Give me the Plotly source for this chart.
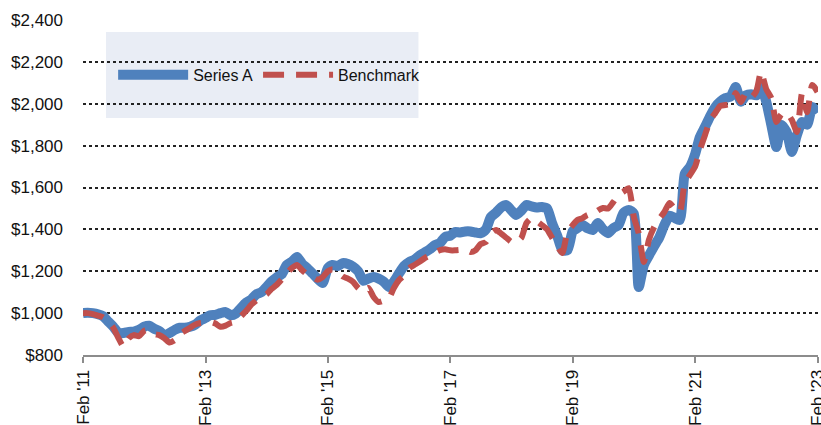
import pandas as pd
import plotly.graph_objects as go

dates = pd.date_range("2011-02-01", periods=145, freq="MS")

series_a = [
    1000, 1002, 1000, 995, 985, 960, 935, 905, 905, 910, 912, 920,
    935, 940, 925, 915, 895, 905, 920, 930, 930, 935, 945, 965,
    977, 990, 992, 1000, 1005, 990, 998, 1025, 1050, 1065, 1090, 1100,
    1125, 1150, 1170, 1185, 1230, 1245, 1268, 1235, 1215, 1190, 1165, 1144,
    1215, 1230, 1225, 1239, 1235, 1222, 1200, 1155, 1165, 1172, 1165, 1150,
    1125, 1150, 1190, 1225, 1244, 1255, 1275, 1290, 1305, 1325, 1335, 1364,
    1370, 1387, 1385, 1390, 1390, 1385, 1382, 1400, 1459, 1480, 1505, 1516,
    1490, 1469, 1490, 1516, 1510, 1505, 1507, 1500, 1430, 1370, 1300, 1301,
    1390, 1406, 1421, 1405, 1397, 1430, 1400, 1382, 1406, 1420, 1478, 1493,
    1475, 1125, 1230, 1275, 1320, 1360, 1420, 1465, 1455, 1445, 1665, 1698,
    1760, 1841, 1890, 1940, 1984, 2010, 2027, 2035, 2080, 2010, 2040, 2045,
    2040, 2080, 2010, 1900, 1793, 1898, 1865, 1770, 1850, 1913, 1900, 1984,
    1956,
]

benchmark = [
    1000, 1000, 995, 988, 980, 960, 930, 880, 840, 880, 895, 890,
    915, 920, 900, 895, 880, 860, 870, 900, 915, 930, 945, 953,
    955, 958, 950, 935, 940, 953, 960, 985, 1010, 1040, 1060, 1075,
    1090, 1115, 1134, 1160, 1190, 1215, 1230, 1205, 1185, 1172, 1160, 1172,
    1200, 1210, 1195, 1175, 1165, 1150, 1120, 1101, 1120, 1077, 1053, 1060,
    1072, 1120, 1158, 1180, 1215, 1230, 1245, 1263, 1275, 1290, 1301, 1305,
    1300, 1300, 1302, 1305, 1292, 1300, 1330, 1340, 1380, 1397, 1380, 1360,
    1340, 1338, 1360, 1430, 1454, 1440, 1421, 1400, 1360, 1320, 1287, 1387,
    1420, 1445, 1454, 1469, 1470, 1490, 1502, 1500, 1530, 1564, 1580, 1597,
    1459, 1382, 1244, 1350, 1411, 1450, 1483, 1526, 1500, 1483, 1621, 1660,
    1700, 1779, 1851, 1920, 1956, 1990, 1994, 2000, 2051, 2008, 2051, 2030,
    2060, 2152, 2070, 2027, 1913, 1950, 1956, 1922, 1865, 2051, 1960, 2090,
    2056,
]

tick_dates = ["2011-02-01", "2013-02-01", "2015-02-01", "2017-02-01",
              "2019-02-01", "2021-02-01", "2023-02-01"]
tick_labels = ["Feb '11", "Feb '13", "Feb '15", "Feb '17",
               "Feb '19", "Feb '21", "Feb '23"]
y_ticks = [800, 1000, 1200, 1400, 1600, 1800, 2000, 2200, 2400]
y_labels = ["$800", "$1,000", "$1,200", "$1,400", "$1,600",
            "$1,800", "$2,000", "$2,200", "$2,400"]

FONT = "Liberation Sans, Arial, sans-serif"

fig = go.Figure()
fig.add_trace(go.Scatter(
    x=dates, y=series_a, name="Series A", mode="lines",
    line=dict(color="#4F81BD", width=10, shape="spline", smoothing=0.6),
))
fig.add_trace(go.Scatter(
    x=dates, y=benchmark, name="Benchmark", mode="lines",
    line=dict(color="#C0504D", width=6, dash="21px,12px",
              shape="spline", smoothing=0.6),
))

fig.update_layout(
    template="none",
    width=821, height=425,
    margin=dict(l=83, r=3, t=20, b=70),
    paper_bgcolor="white", plot_bgcolor="white",
    font=dict(family=FONT, size=17, color="#111111"),
    showlegend=True,
    legend=dict(
        orientation="h",
        x=0.041, y=0.836, xanchor="left", yanchor="middle",
        bgcolor="rgba(0,0,0,0)",
        font=dict(family=FONT, size=16, color="#111111"),
        itemwidth=70,
        tracegroupgap=0,
    ),
    shapes=[dict(
        type="rect", xref="paper", yref="paper",
        x0=0.0313, x1=0.4564, y0=0.7075, y1=0.964,
        fillcolor="#E9EDF5", line=dict(width=0), layer="below",
    )],
)

fig.update_xaxes(
    type="date",
    range=["2011-02-01", "2023-02-04"],
    tickmode="array", tickvals=tick_dates, ticktext=tick_labels,
    tickangle=-90,
    tickfont=dict(family=FONT, size=17, color="#111111"),
    ticklabeloverflow="allow",
    showgrid=False, zeroline=False,
    showline=True, linecolor="#8C8C8C", linewidth=2,
    ticks="outside", ticklen=6, tickwidth=2, tickcolor="#8C8C8C",
    automargin=False,
)
fig.update_yaxes(
    range=[800, 2400],
    tickmode="array", tickvals=y_ticks, ticktext=y_labels,
    tickfont=dict(family=FONT, size=17, color="#111111"),
    showgrid=True, gridcolor="#222222", gridwidth=1.5, griddash="dot",
    zeroline=False, showline=False, ticks="",
    ticklabelstandoff=19,
    automargin=False,
)

fig.write_html(
    "out.html",
    config={"displayModeBar": False},
    post_script="document.body.style.margin='0px';"
                "document.documentElement.style.overflow='hidden';",
)
